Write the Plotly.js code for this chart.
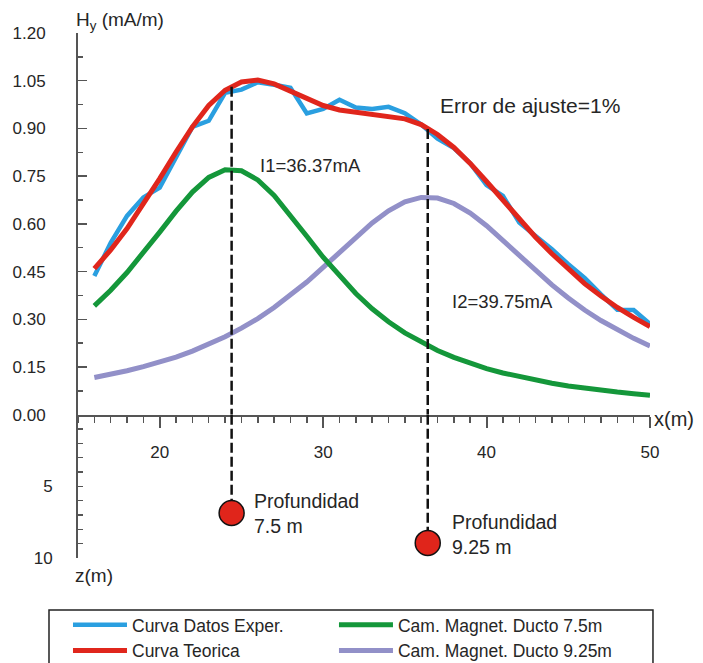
<!DOCTYPE html>
<html>
<head>
<meta charset="utf-8">
<script src="https://cdn.plot.ly/plotly-3.0.1.min.js"></script>
<style>html,body{margin:0;padding:0;background:#fff;}#chart{width:703px;height:663px;}</style>
</head>
<body>
<div id="chart"></div>
<script>
// ---- data ----
const xPos = [16,17,18,19,20,21,22,23,24,25,26,27,28,29,30,31,32,33,34,35,36,37,38,39,40,41,42,43,44,45,46,47,48,49,50];
const hExper = [0.436,0.540,0.625,0.683,0.714,0.810,0.905,0.924,1.012,1.022,1.045,1.037,1.028,0.947,0.961,0.990,0.966,0.961,0.968,0.948,0.912,0.868,0.838,0.790,0.722,0.688,0.604,0.562,0.520,0.473,0.430,0.378,0.330,0.329,0.285];
const hTeorica = [0.459,0.518,0.585,0.662,0.742,0.826,0.905,0.972,1.020,1.046,1.052,1.040,1.017,0.994,0.972,0.958,0.951,0.946,0.940,0.930,0.912,0.881,0.840,0.790,0.733,0.673,0.615,0.558,0.506,0.457,0.412,0.373,0.337,0.306,0.277];
const hDucto75 = [0.342,0.391,0.447,0.508,0.574,0.640,0.700,0.746,0.770,0.767,0.738,0.689,0.627,0.561,0.495,0.435,0.381,0.333,0.292,0.257,0.228,0.202,0.180,0.161,0.145,0.131,0.119,0.108,0.099,0.090,0.083,0.077,0.071,0.066,0.061];
const hDucto925 = [0.117,0.127,0.138,0.151,0.165,0.181,0.200,0.221,0.245,0.272,0.302,0.337,0.375,0.417,0.463,0.510,0.558,0.603,0.641,0.669,0.683,0.681,0.664,0.634,0.594,0.548,0.501,0.453,0.408,0.367,0.329,0.296,0.266,0.240,0.216];
const seriesNames = ['Curva Datos Exper.','Curva Teorica','Cam. Magnet. Ducto 7.5m','Cam. Magnet. Ducto 9.25m'];
const ductX = [24.4, 36.4];      // x of each duct
const ductPeakH = [1.031, 0.898]; // top of dashed line (mA/m)
const ductDepth = [6.86, 8.95];   // drawn depth of the dot (m)
const currentLabels = ['I1=36.37mA','I2=39.75mA'];
const depthLabels = ['Profundidad<br>7.5 m','Profundidad<br>9.25 m'];
const fitLabel = 'Error de ajuste=1%';
const yTickVals = [0,0.15,0.30,0.45,0.60,0.75,0.90,1.05,1.20];
const zTickVals = [5,10];
const xTickVals = [20,30,40,50];

// ---- styles ----
const FONT = 'Liberation Sans, Arial, Helvetica, sans-serif';
const TXT = '#262626';
const AX = '#555555';
const cBlue = '#2a9fe0', cRed = '#e0261c', cGreen = '#14973a', cPurple = '#9290c8';

const traces = [];
traces.push({x:xPos, y:hDucto925, mode:'lines', name:seriesNames[3], legend:'legend2', legendrank:2, line:{color:cPurple,width:5}, xaxis:'x', yaxis:'y'});
traces.push({x:xPos, y:hDucto75, mode:'lines', name:seriesNames[2], legend:'legend2', legendrank:1, line:{color:cGreen,width:5}, xaxis:'x', yaxis:'y'});
traces.push({x:xPos, y:hExper, mode:'lines', name:seriesNames[0], legend:'legend', legendrank:1, line:{color:cBlue,width:4.5}, xaxis:'x', yaxis:'y'});
traces.push({x:xPos, y:hTeorica, mode:'lines', name:seriesNames[1], legend:'legend', legendrank:2, line:{color:cRed,width:5}, xaxis:'x', yaxis:'y'});
for (let i=0;i<ductX.length;i++){
  traces.push({x:[ductX[i],ductX[i]], y:[ductPeakH[i],0], mode:'lines', showlegend:false, hoverinfo:'skip',
    line:{color:'#111',width:2.5,dash:'10px,4px'}, xaxis:'x', yaxis:'y'});
  traces.push({x:[ductX[i],ductX[i]], y:[0,ductDepth[i]], mode:'lines', showlegend:false, hoverinfo:'skip',
    line:{color:'#111',width:2.5,dash:'10px,4px'}, xaxis:'x', yaxis:'y2'});
}
traces.push({x:ductX, y:ductDepth, mode:'markers', showlegend:false, hoverinfo:'skip',
  marker:{size:25,color:'#e0251b',line:{color:'#111',width:1.5}}, xaxis:'x', yaxis:'y2'});

const ann = [];
ann.push({xref:'paper',x:0,xanchor:'left',xshift:-4,yref:'paper',y:1,yanchor:'middle',yshift:12,showarrow:false,
  text:'H<sub>y</sub> (mA/m)',font:{family:FONT,size:19,color:TXT}});
ann.push({xref:'paper',x:1,xanchor:'left',xshift:2,yref:'y',y:0,yanchor:'middle',yshift:-4,showarrow:false,
  text:'x(m)',font:{family:FONT,size:20,color:TXT}});
ann.push({xref:'paper',x:0,xanchor:'left',xshift:-5,yref:'y2',y:10,yanchor:'top',yshift:-5,showarrow:false,
  text:'z(m)',font:{family:FONT,size:19,color:TXT}});
const curPos = [[26.0,0.782],[37.75,0.357]];
for (let i=0;i<2;i++){
  ann.push({xref:'x',yref:'y',x:curPos[i][0],y:curPos[i][1],xanchor:'left',yanchor:'middle',showarrow:false,
    text:currentLabels[i],font:{family:FONT,size:18.5,color:TXT}});
}
ann.push({xref:'x',yref:'y',x:37.0,y:0.971,xanchor:'left',yanchor:'middle',showarrow:false,
  text:fitLabel,font:{family:FONT,size:21,color:TXT}});
const depPos = [[25.65,6.88],[37.75,8.34]];
for (let i=0;i<2;i++){
  ann.push({xref:'x',yref:'y2',x:depPos[i][0],y:depPos[i][1],xanchor:'left',yanchor:'middle',align:'left',showarrow:false,
    text:depthLabels[i],font:{family:FONT,size:19.5,color:TXT}});
}

const legendBase = {orientation:'v', xanchor:'left', y:-0.093, yanchor:'top', itemwidth:54,
  font:{family:FONT,size:17.5,color:TXT}, bgcolor:'rgba(0,0,0,0)', borderwidth:0, traceorder:'normal', tracegroupgap:0};

const layout = {
  width:703, height:663,
  margin:{l:78,r:53,t:33,b:105,pad:0,autoexpand:false},
  paper_bgcolor:'#fff', plot_bgcolor:'rgba(0,0,0,0)',
  font:{family:FONT,color:TXT},
  showlegend:true,
  legend:Object.assign({}, legendBase, {x:-0.0175}),
  legend2:Object.assign({}, legendBase, {x:0.4475}),
  xaxis:{range:[15,50], anchor:'y', showgrid:false, zeroline:false, showline:true, linecolor:AX, linewidth:2,
    tickmode:'array', tickvals:xTickVals, ticks:'outside', ticklen:11, tickwidth:2, tickcolor:AX,
    ticklabelstandoff:10, tickfont:{family:FONT,size:17,color:TXT},
    minor:{tickmode:'linear', tick0:0, dtick:1, ticks:'outside', ticklen:6, tickwidth:1.5, tickcolor:AX}},
  yaxis:{domain:[0.273,1], range:[0,1.2], anchor:'x', showgrid:false, zeroline:false, showline:true, linecolor:AX, linewidth:2,
    tickmode:'array', tickvals:yTickVals, tickformat:'.2f', ticks:'inside', ticklen:9, tickwidth:1.5, tickcolor:AX,
    ticklabelstandoff:27, tickfont:{family:FONT,size:17,color:TXT},
    minor:{tickmode:'linear', tick0:0, dtick:0.075, ticks:'inside', ticklen:5, tickwidth:1.5, tickcolor:AX}},
  yaxis2:{domain:[0,0.273], range:[10,0], anchor:'x', showgrid:false, zeroline:false, showline:true, linecolor:AX, linewidth:2,
    tickmode:'array', tickvals:zTickVals, ticks:'inside', ticklen:5, tickwidth:1.5, tickcolor:AX,
    ticklabelstandoff:20, tickfont:{family:FONT,size:17,color:TXT},
    minor:{tickmode:'linear', tick0:0, dtick:1, ticks:'inside', ticklen:5, tickwidth:1.5, tickcolor:AX}},
  shapes:[{type:'rect', xref:'paper', yref:'paper', x0:-0.0507, x1:1.0052, y0:-0.22, y1:-0.099,
    line:{color:'#222',width:1.5}, fillcolor:'rgba(0,0,0,0)', layer:'above'}],
  annotations:ann
};
Plotly.newPlot('chart', traces, layout, {displayModeBar:false, staticPlot:true});
</script>
</body>
</html>
